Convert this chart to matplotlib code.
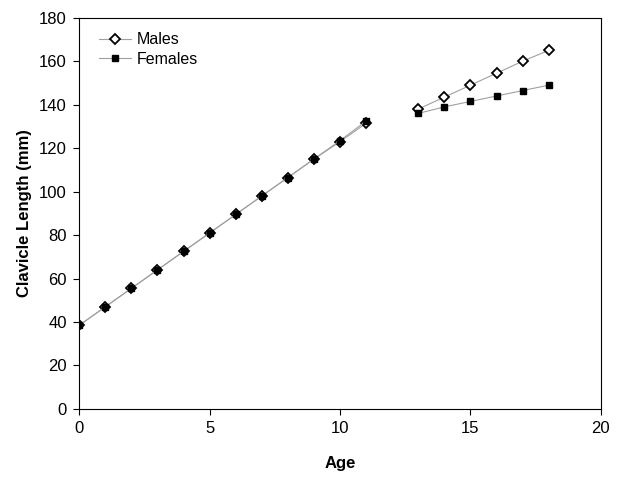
import numpy as np
import matplotlib.pyplot as plt

plt.rcParams['font.family'] = ['Liberation Sans', 'DejaVu Sans']

# Datos
age = [0, 1, 2, 3, 4, 5, 6, 7, 8, 9, 10, 11, 12, 13, 14, 15, 16, 17, 18]
males = [38.5, 47, 55.5, 64, 72.5, 81, 89.5, 98, 106.5, 115, 123, 131.5, np.nan,
         138, 143.5, 149, 154.5, 160, 165]
females = [38.5, 47, 55.5, 64, 72.5, 81, 89.5, 98, 106.5, 115, 123.5, 132.5, np.nan,
           136, 139, 141.5, 144, 146.5, 149]

fig = plt.figure(figsize=(6.24, 4.8), dpi=100)
ax = fig.add_axes([0.127, 0.148, 0.836, 0.815])

ax.plot(age, males, color='#a0a0a0', lw=0.8, marker='D', ms=5.5,
        mfc='white', mec='black', mew=1.3, label='Males', zorder=2)
ax.plot(age, females, color='#a0a0a0', lw=0.8, marker='s', ms=5,
        mfc='black', mec='black', label='Females', zorder=3)

ax.set_xlim(0, 20)
ax.set_ylim(0, 180)
ax.set_xticks([0, 5, 10, 15, 20])
ax.set_yticks(np.arange(0, 181, 20))
ax.tick_params(direction='out', labelsize=12, length=4, pad=5)
ax.set_xlabel('Age', fontsize=12, fontweight='bold', labelpad=14)
ax.set_ylabel('Clavicle Length (mm)', fontsize=12, fontweight='bold', labelpad=5)
ax.legend(loc='upper left', frameon=False, fontsize=11.5, handlelength=2.0,
          handletextpad=0.4, labelspacing=0.3, bbox_to_anchor=(0.01, 1.0))

fig.savefig('out.png', dpi=100)
